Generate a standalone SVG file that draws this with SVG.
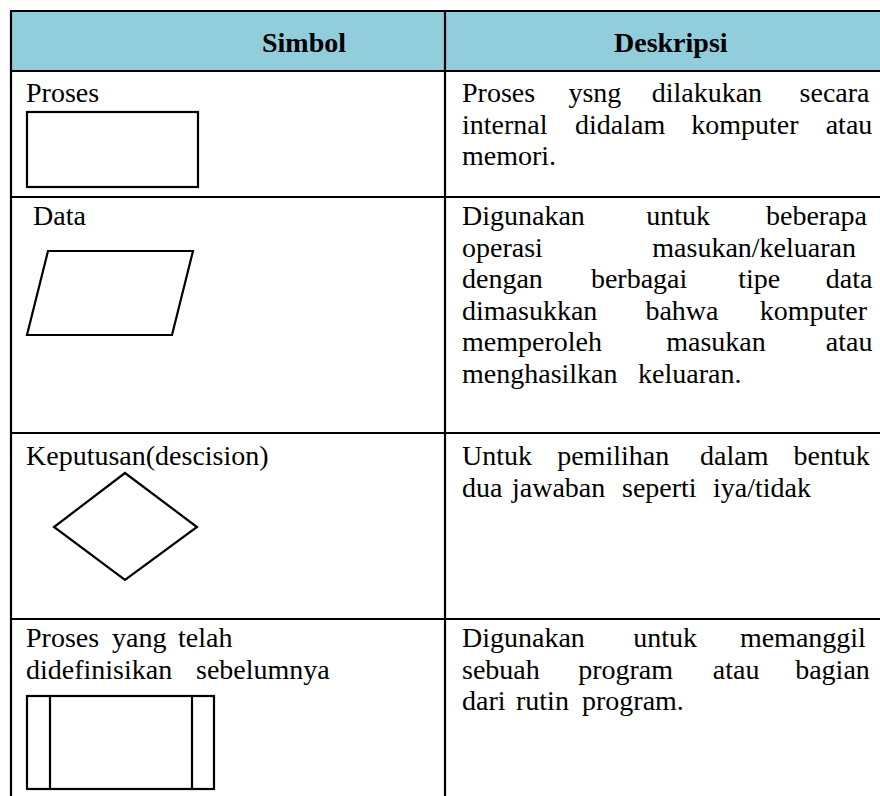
<svg xmlns="http://www.w3.org/2000/svg" width="880" height="796" viewBox="0 0 880 796">
<rect width="880" height="796" fill="#fff"/>
<g id="header">
<rect x="11" y="11" width="869" height="60" fill="#92CDDC"/>
</g>
<g id="grid" stroke="#000" stroke-width="2.2" fill="none">
<line x1="11" y1="11" x2="880" y2="11"/>
<line x1="11" y1="71" x2="880" y2="71"/>
<line x1="11" y1="197" x2="880" y2="197"/>
<line x1="11" y1="433" x2="880" y2="433"/>
<line x1="11" y1="619" x2="880" y2="619"/>
<line x1="11" y1="10" x2="11" y2="796"/>
<line x1="445" y1="10" x2="445" y2="796"/>
</g>
<g id="shapes" stroke="#000" stroke-width="2.2" fill="#fff">
<g id="shape-proses"><rect x="27" y="112" width="171" height="75"/></g>
<g id="shape-data"><polygon points="48,251 193,251 172,335 27,335"/></g>
<g id="shape-keputusan"><polygon points="125,473 197,527 125,580 54,527"/></g>
<g id="shape-predefined">
<rect x="27" y="696" width="187" height="93"/>
<line x1="50" y1="696" x2="50" y2="789"/>
<line x1="192" y1="696" x2="192" y2="789"/>
</g>
</g>
<text x="262" y="52" font-size="28" font-weight="bold" font-family="Liberation Serif">Simbol</text>
<text x="614" y="52" font-size="28" font-weight="bold" font-family="Liberation Serif">Deskripsi</text>
<text x="26" y="102" font-size="28" font-family="Liberation Serif">Proses</text>
<text y="102" font-size="28" font-family="Liberation Serif"><tspan x="462">Proses</tspan><tspan x="568.4">ysng</tspan><tspan x="651.7">dilakukan</tspan><tspan x="799.6">secara</tspan></text>
<text y="133.5" font-size="28" font-family="Liberation Serif"><tspan x="462">internal</tspan><tspan x="575.1">didalam</tspan><tspan x="691.2">komputer</tspan><tspan x="825.7">atau</tspan></text>
<text x="462" y="165" font-size="28" font-family="Liberation Serif">memori.</text>
<text x="33" y="225" font-size="28" font-family="Liberation Serif">Data</text>
<text y="225" font-size="28" font-family="Liberation Serif"><tspan x="462">Digunakan</tspan><tspan x="646.3">untuk</tspan><tspan x="766">beberapa</tspan></text>
<text y="256.5" font-size="28" font-family="Liberation Serif"><tspan x="462">operasi</tspan><tspan x="652.3">masukan/keluaran</tspan></text>
<text y="288" font-size="28" font-family="Liberation Serif"><tspan x="462">dengan</tspan><tspan x="590.9">berbagai</tspan><tspan x="738.3">tipe</tspan><tspan x="825.8">data</tspan></text>
<text y="319.5" font-size="28" font-family="Liberation Serif"><tspan x="462">dimasukkan</tspan><tspan x="645.4">bahwa</tspan><tspan x="759.8">komputer</tspan></text>
<text y="351" font-size="28" font-family="Liberation Serif"><tspan x="462">memperoleh</tspan><tspan x="666.2">masukan</tspan><tspan x="825.8">atau</tspan></text>
<text y="382.5" font-size="28" font-family="Liberation Serif"><tspan x="462">menghasilkan</tspan><tspan x="638">keluaran.</tspan></text>
<text x="26" y="465" font-size="28" font-family="Liberation Serif">Keputusan(descision)</text>
<text y="465" font-size="28" font-family="Liberation Serif"><tspan x="462">Untuk</tspan><tspan x="557.2">pemilihan</tspan><tspan x="700">dalam</tspan><tspan x="793.6">bentuk</tspan></text>
<text y="496.5" font-size="28" font-family="Liberation Serif"><tspan x="462">dua</tspan><tspan x="512">jawaban</tspan><tspan x="622">seperti</tspan><tspan x="713">iya/tidak</tspan></text>
<text y="647" font-size="28" font-family="Liberation Serif"><tspan x="26">Proses</tspan><tspan x="112">yang</tspan><tspan x="178">telah</tspan></text>
<text y="678.5" font-size="28" font-family="Liberation Serif"><tspan x="26">didefinisikan</tspan><tspan x="196">sebelumnya</tspan></text>
<text y="647" font-size="28" font-family="Liberation Serif"><tspan x="462">Digunakan</tspan><tspan x="633.2">untuk</tspan><tspan x="739.9">memanggil</tspan></text>
<text y="678.5" font-size="28" font-family="Liberation Serif"><tspan x="462">sebuah</tspan><tspan x="578.2">program</tspan><tspan x="712.8">atau</tspan><tspan x="795.2">bagian</tspan></text>
<text y="710" font-size="28" font-family="Liberation Serif"><tspan x="462">dari</tspan><tspan x="516">rutin</tspan><tspan x="582">program.</tspan></text>
</svg>
